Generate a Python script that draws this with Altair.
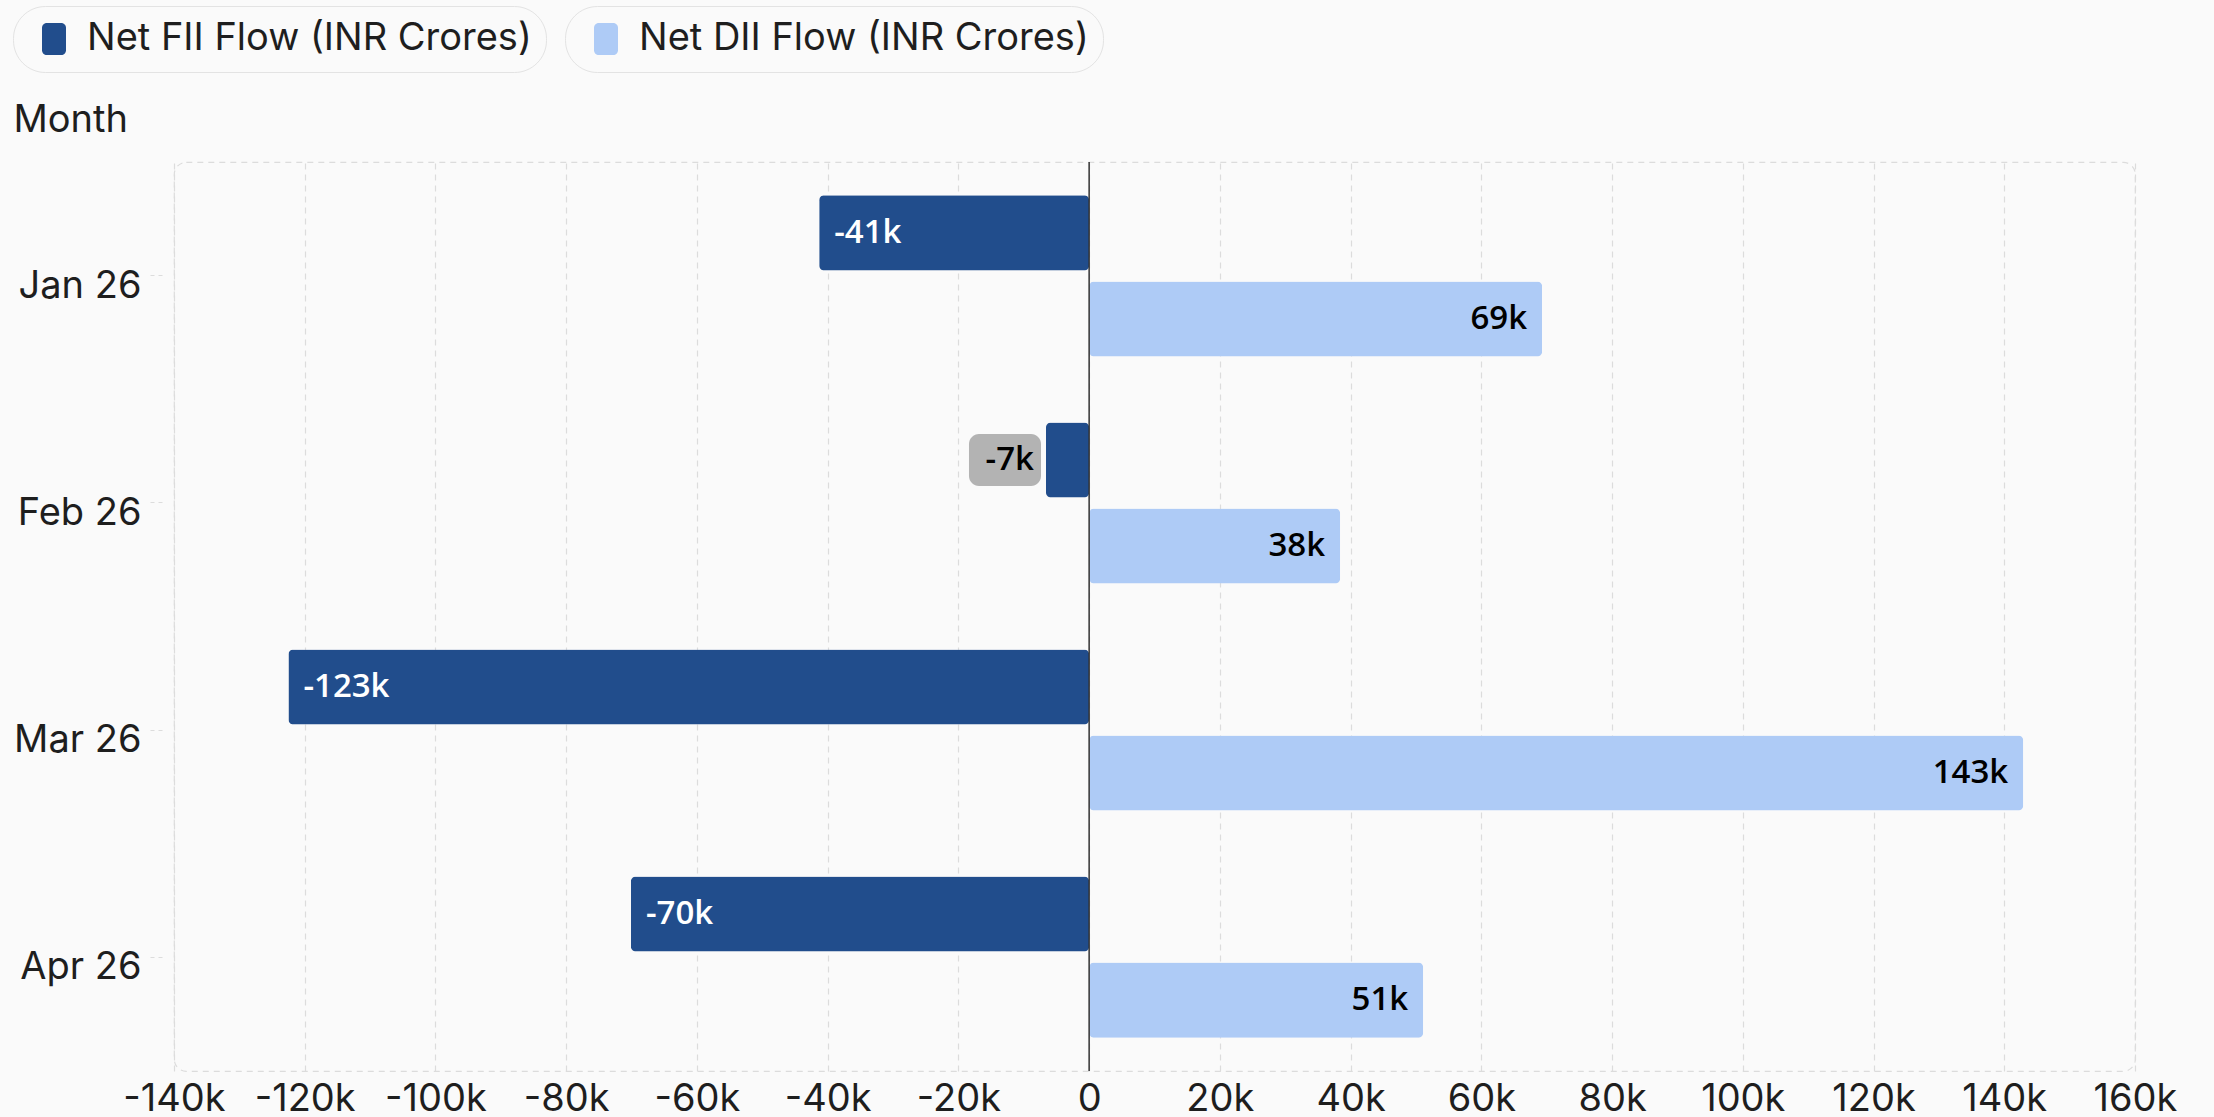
import altair as alt
import pandas as pd

months = ["Jan 26", "Feb 26", "Mar 26", "Apr 26"]
fii_flow = [-41300, -6600, -122500, -70100]
dii_flow = [69300, 38400, 142900, 51100]
series_names = ["Net FII Flow (INR Crores)", "Net DII Flow (INR Crores)"]
x_ticks = list(range(-140000, 160001, 20000))

FII, DII = series_names
rows = []
for m, f, d in zip(months, fii_flow, dii_flow):
    rows.append({"month": m, "series": FII, "value": f})
    rows.append({"month": m, "series": DII, "value": d})
df = pd.DataFrame(rows)

FONT = "Inter"
FS = 38
LABEL_FONT = "Open Sans"
FII_COLOR = "#214d8c"
DII_COLOR = "#aecbf6"
BG = "#fafafa"
GRID = "#dcdcdc"
TXT = "#1e1e1e"

legend_shape = ("M -0.45,-1 L 0.45,-1 A 0.3 0.3 0 0 1 0.75 -0.7 L 0.75 0.7 "
                "A 0.3 0.3 0 0 1 0.45 1 L -0.45 1 A 0.3 0.3 0 0 1 -0.75 0.7 "
                "L -0.75 -0.7 A 0.3 0.3 0 0 1 -0.45 -1 Z")

def legend(x, fill=None):
    kw = dict(
        orient="none", legendX=x, legendY=-156, direction="horizontal",
        title=None, strokeColor="#e3e3e3", cornerRadius=32, padding=14,
        fillColor=BG, labelFont=FONT, labelFontSize=FS, labelColor=TXT,
        symbolType=legend_shape, symbolSize=1024, symbolOffset=8,
        labelOffset=14, symbolStrokeWidth=0, labelLimit=800,
    )
    if fill:
        kw["symbolFillColor"] = fill
    return alt.Legend(**kw)

y_enc = alt.Y(
    "month:N", sort=months,
    scale=alt.Scale(paddingInner=0.29, paddingOuter=0.147),
    axis=alt.Axis(
        title="Month", titleAngle=0, titleAlign="left", titleBaseline="middle",
        titleX=-149, titleY=-42, titleFont=FONT, titleFontSize=FS,
        titleFontWeight="normal", titleColor=TXT,
        labelFont=FONT, labelFontSize=FS, labelColor=TXT, labelPadding=5,
        labelOffset=11,
        domain=False, ticks=True, tickSize=16, tickColor=GRID, tickDash=[4, 4],
        grid=False, offset=12,
    ),
)
yoff_enc = alt.YOffset(
    "series:N", sort=series_names,
    scale=alt.Scale(domain=series_names, paddingInner=0.128, paddingOuter=0),
)
x_scale = alt.Scale(domain=[-140000, 160000], nice=False)
x_enc = alt.X(
    "value:Q", scale=x_scale,
    axis=alt.Axis(
        title=None, values=x_ticks, labelFont=FONT, labelFontSize=FS,
        labelColor=TXT, labelPadding=9, labelFlush=False,
        labelBound=False, labelOverlap=False, ticks=False, domain=False,
        grid=True, gridColor=GRID, gridDash=[6, 5], gridWidth=1.2,
        labelExpr="datum.value == 0 ? '0' : replace(format(datum.value / 1000, '.0f'), '\u2212', '-') + 'k'",
    ),
)

base = alt.Chart(df).transform_calculate(
    label="replace(format(datum.value / 1000, '.0f'), '\u2212', '-') + 'k'",
    outside="abs(datum.value) < 15000",
)

fii_bars = base.transform_filter(alt.datum.series == FII).mark_bar(
    cornerRadius=5, strokeWidth=0
).encode(
    y=y_enc, yOffset=yoff_enc, x=x_enc,
    fill=alt.Fill("series:N", scale=alt.Scale(domain=[FII], range=[FII_COLOR]),
                  legend=legend(-161)),
)
dii_bars = base.transform_filter(alt.datum.series == DII).mark_bar(
    cornerRadius=5, strokeWidth=0, fill=DII_COLOR
).encode(
    y=y_enc, yOffset=yoff_enc, x=x_enc,
    stroke=alt.Stroke("series:N", scale=alt.Scale(domain=[DII], range=[DII_COLOR]),
                      legend=legend(391, DII_COLOR)),
)

zero_rule = alt.Chart(pd.DataFrame({"z": [0]})).mark_rule(
    color="#333333", strokeWidth=1.5
).encode(x=alt.X("z:Q", scale=x_scale))

fii_in = base.transform_filter(
    (alt.datum.series == FII) & (alt.datum.outside == False)
).mark_text(align="left", baseline="middle", dx=15, color="white",
            font=LABEL_FONT, fontSize=33, fontWeight=600).encode(
    y=y_enc, yOffset=yoff_enc, x=x_enc, text="label:N")

outside_box = base.transform_filter(
    (alt.datum.series == FII) & (alt.datum.outside == True)
).mark_bar(color="#b3b3b3", cornerRadius=10, height=52,
           xOffset=-77, x2Offset=-5).encode(
    y=y_enc, yOffset=yoff_enc, x=x_enc, x2="value:Q")

fii_out = base.transform_filter(
    (alt.datum.series == FII) & (alt.datum.outside == True)
).mark_text(align="right", baseline="middle", dx=-12, color="black",
            font=LABEL_FONT, fontSize=33, fontWeight=600).encode(
    y=y_enc, yOffset=yoff_enc, x=x_enc, text="label:N")

dii_lbl = base.transform_filter(alt.datum.series == DII).mark_text(
    align="right", baseline="middle", dx=-15, color="black",
    font=LABEL_FONT, fontSize=33, fontWeight=600).encode(
    y=y_enc, yOffset=yoff_enc, x=x_enc, text="label:N")

chart = alt.layer(
    fii_bars, dii_bars, zero_rule, fii_in, outside_box, fii_out, dii_lbl
).properties(
    width=1961, height=909,
    padding={"left": 174, "top": 162, "right": 79, "bottom": 46},
    autosize=alt.AutoSizeParams(type="none"),
    background=BG,
).configure_view(
    stroke=GRID, strokeDash=[6, 5], strokeWidth=1.2, cornerRadius=12, fill=BG
)

chart.save("out.html", embed_options={"renderer": "svg", "actions": False})
